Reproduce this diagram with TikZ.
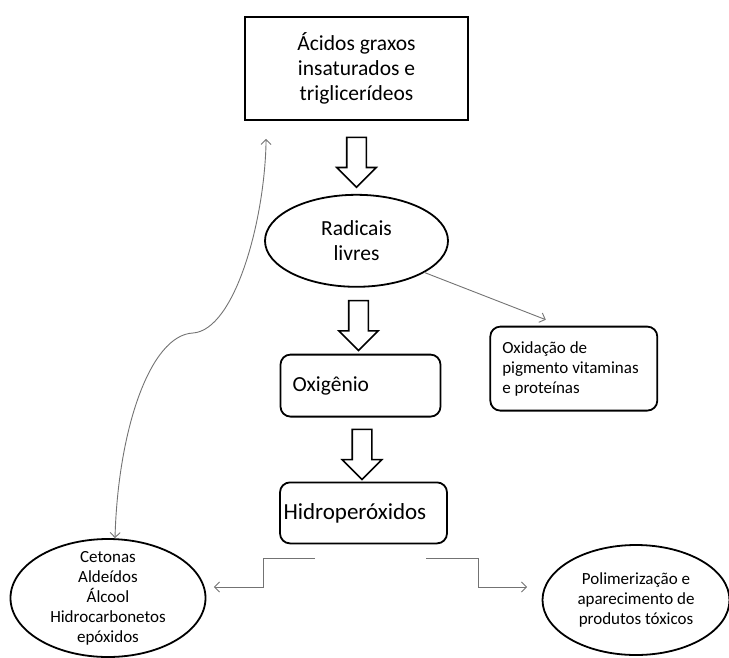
\documentclass[tikz,border=0pt]{standalone}
\usepackage{fontspec}
\setmainfont{Carlito}
\usetikzlibrary{arrows.meta, positioning, shapes.geometric, shapes.arrows, calc}

\begin{document}
\begin{tikzpicture}[x=1pt, y=-1pt,
    bigbox/.style={rectangle, draw=black, line width=1.8pt, fill=white, align=flush center,
      inner sep=0pt},
    roundbox/.style={rectangle, rounded corners=10pt, draw=black, line width=1.8pt,
      fill=white, align=flush left, inner sep=0pt},
    oval/.style={ellipse, draw=black, line width=1.8pt, fill=white, align=flush center,
      inner sep=0pt},
    bigtext/.style={font=\fontsize{21.5}{25}\selectfont},
    smalltext/.style={font=\fontsize{17}{20}\selectfont},
    hollow/.style={single arrow, draw=black, line width=1.6pt, fill=white,
      shape border rotate=270, inner sep=9pt, minimum width=0pt,
      single arrow head extend=10pt, minimum height=50pt},
    link/.style={draw=black!55, line width=0.9pt, -{Straight Barb[length=5pt, width=10pt]}}
  ]
    \useasboundingbox (0,0) rectangle (729,657);

    \node[bigbox, bigtext, minimum width=223pt, minimum height=103pt] (acidos) at (356.5,68.5)
      {Ácidos graxos\\insaturados e\\triglicerídeos};
    \node[oval, bigtext, minimum width=183pt, minimum height=92pt, below=73pt of acidos]
      (radicais) {Radicais\\livres};
    \node[roundbox, bigtext, text width=136pt, inner xsep=12pt, minimum height=62pt,
      below=66pt of radicais, xshift=4pt] (oxigenio) {Oxigênio};
    \node[roundbox, font=\fontsize{23}{27}\selectfont, text width=160pt, inner xsep=3.5pt,
      minimum height=61pt, below=64pt of oxigenio, xshift=3pt] (hidro) {Hidroperóxidos};
    \node[roundbox, smalltext, text width=143pt, inner xsep=12pt, minimum height=84pt,
      right=48pt of oxigenio, yshift=17pt] (oxidacao)
      {Oxidação de\\pigmento vitaminas\\e proteínas};
    \node[oval, smalltext, minimum width=195pt, minimum height=118pt, inner ysep=-8pt]
      (cetonas) at (108,598) {Cetonas\\Aldeídos\\Álcool\\Hidrocarbonetos\\epóxidos};
    \node[oval, smalltext, minimum width=187pt, minimum height=110pt] (polimer) at (636,600)
      {Polimerização e\\aparecimento de\\produtos tóxicos};

    % setas grossas
    \node[hollow] (seta1) at ($(acidos.south)!0.5!(radicais.north)$) {};
    \node[hollow] (seta2) at ($(radicais.south)!0.5!(oxigenio.north)$) {};
    \node[hollow] (seta3) at ($(oxigenio.south)!0.5!(hidro.north)$) {};

    \coordinate (hl) at ([xshift=-48.5pt, yshift=-14pt]hidro.south);
    \coordinate (hr) at ([xshift=62.5pt, yshift=-14pt]hidro.south);
    \coordinate (bend) at (193,333);

    \draw[link] (radicais.-25) -- ([xshift=-28pt, yshift=6pt]oxidacao.north);
    \draw[link] (hl) -- ++(-52pt,0pt) |- ([xshift=7.5pt, yshift=11pt]cetonas.east);
    \draw[link] (hr) -- ++(52pt,0pt) |- ([xshift=-14.5pt, yshift=13pt]polimer.west);
    \draw[link, {Straight Barb[length=5pt, width=10pt]}-{Straight Barb[length=5pt, width=10pt]}]
      ([xshift=7pt]cetonas.north) .. controls (118,430) and (150,335) .. (bend)
      .. controls (235,330) and (265,220) .. ([xshift=22pt, yshift=-18pt]acidos.south west);
  \end{tikzpicture}
\end{document}
